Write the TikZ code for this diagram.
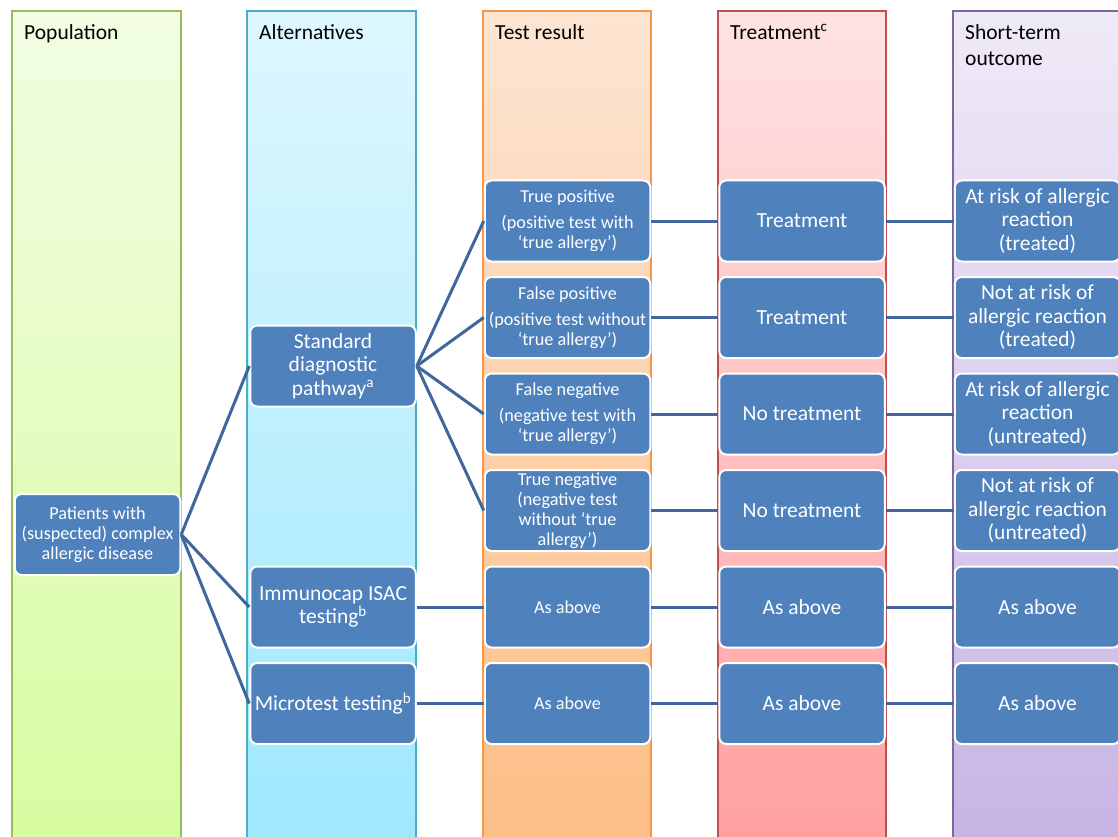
\documentclass[tikz,border=0pt]{standalone}
\usepackage{fontspec}
\setmainfont{Carlito}
\usetikzlibrary{positioning}
\definecolor{boxblue}{HTML}{4F81BD}
\definecolor{linkblue}{HTML}{41669B}
\definecolor{popline}{HTML}{9BBB59}
\definecolor{poptop}{HTML}{F2FDE3}
\definecolor{popbot}{HTML}{D7FCA0}
\definecolor{altline}{HTML}{4BACC6}
\definecolor{alttop}{HTML}{DEF7FE}
\definecolor{altbot}{HTML}{9EE8FE}
\definecolor{testline}{HTML}{F79646}
\definecolor{testtop}{HTML}{FDE5D2}
\definecolor{testbot}{HTML}{FDBE86}
\definecolor{treatline}{HTML}{C0504D}
\definecolor{treattop}{HTML}{FFE3E3}
\definecolor{treatbot}{HTML}{FFA0A0}
\definecolor{outline}{HTML}{8064A2}
\definecolor{outtop}{HTML}{EFEAF7}
\definecolor{outbot}{HTML}{C8B4E4}

\begin{document}
\begin{tikzpicture}[x=1pt, y=-1pt, node distance=13.5pt and 67pt,
    box/.style={draw=white, line width=2pt, fill=boxblue, text=white, rounded corners=7pt, align=center, minimum width=165.5pt, minimum height=81pt, inner xsep=0pt, inner ysep=1pt},
    big/.style={font=\fontsize{21.5}{23.5}\selectfont},
    small/.style={font=\fontsize{18.2}{20}\selectfont},
    head/.style={anchor=north west, inner sep=0pt, align=left, font=\fontsize{21.5}{26}\selectfont},
    link/.style={draw=linkblue, line width=3pt}]
    \useasboundingbox (0,0) rectangle (1118,837);
    \clip (0,0) rectangle (1118,837);

    \draw[line width=1.5pt, draw=popline, top color=poptop, bottom color=popbot] (12,11) rectangle (181,845);
    \draw[line width=1.5pt, draw=altline, top color=alttop, bottom color=altbot] (247,11) rectangle (416,845);
    \draw[line width=1.5pt, draw=testline, top color=testtop, bottom color=testbot] (483,11) rectangle (651,845);
    \draw[line width=1.5pt, draw=treatline, top color=treattop, bottom color=treatbot] (718,11) rectangle (886,845);
    \draw[line width=1.5pt, draw=outline, top color=outtop, bottom color=outbot] (953,11) rectangle (1140,845);

    \node (hpop) [head] at (24,24) {Population};
    \node (halt) [head] at (259,24) {Alternatives};
    \node (htest) [head] at (495,24) {Test result};
    \node (htreat) [head] at (730,24) {Treatment\textsuperscript{c}};
    \node (hout) [head] at (965,24) {Short-term\\outcome};

    \node (tp) [box, small] at (567.5,221) {True positive\\[6pt](positive test with\\‘true allergy’)};
    \node (fp) [box, small, below=of tp] {False positive\\[6pt](positive test without\\‘true allergy’)};
    \node (fn) [box, small, below=of fp] {False negative\\[6pt](negative test with\\‘true allergy’)};
    \node (tn) [box, small, below=of fn] {True negative\\(negative test\\without ‘true\\allergy’)};
    \node (as1) [box, small, below=of tn] {As above};
    \node (as2) [box, small, below=of as1] {As above};

    \node (tr1) [box, big, right=of tp] {Treatment};
    \node (tr2) [box, big, right=of fp] {Treatment};
    \node (tr3) [box, big, right=of fn] {No treatment};
    \node (tr4) [box, big, right=of tn] {No treatment};
    \node (tr5) [box, big, right=of as1] {As above};
    \node (tr6) [box, big, right=of as2] {As above};

    \node (out1) [box, big, right=68pt of tr1] {At risk of allergic\\reaction\\(treated)};
    \node (out2) [box, big, right=68pt of tr2] {Not at risk of\\allergic reaction\\(treated)};
    \node (out3) [box, big, right=68pt of tr3] {At risk of allergic\\reaction\\(untreated)};
    \node (out4) [box, big, right=68pt of tr4] {Not at risk of\\allergic reaction\\(untreated)};
    \node (out5) [box, big, right=68pt of tr5] {As above};
    \node (out6) [box, big, right=68pt of tr6] {As above};

    \node (std) [box, big] at (333,366) {Standard\\diagnostic\\pathway\textsuperscript{a}};
    \node (imm) [box, big, left=of as1] {Immunocap ISAC\\testing\textsuperscript{b}};
    \node (mic) [box, big, left=of as2] {Microtest testing\textsuperscript{b}};
    \node (pat) [box, small] at (97.5,534.5) {Patients with\\(suspected) complex\\allergic disease};

    \draw[link] (pat.east) -- (std.west);
    \draw[link] (pat.east) -- (imm.west);
    \draw[link] (pat.east) -- (mic.west);
    \draw[link] (std.east) -- (tp.west);
    \draw[link] (std.east) -- (fp.west);
    \draw[link] (std.east) -- (fn.west);
    \draw[link] (std.east) -- (tn.west);
    \draw[link] (imm) -- (as1);
    \draw[link] (mic) -- (as2);
    \draw[link] (tp) -- (tr1);
    \draw[link] (fp) -- (tr2);
    \draw[link] (fn) -- (tr3);
    \draw[link] (tn) -- (tr4);
    \draw[link] (as1) -- (tr5);
    \draw[link] (as2) -- (tr6);
    \draw[link] (tr1) -- (out1);
    \draw[link] (tr2) -- (out2);
    \draw[link] (tr3) -- (out3);
    \draw[link] (tr4) -- (out4);
    \draw[link] (tr5) -- (out5);
    \draw[link] (tr6) -- (out6);
\end{tikzpicture}
\end{document}
